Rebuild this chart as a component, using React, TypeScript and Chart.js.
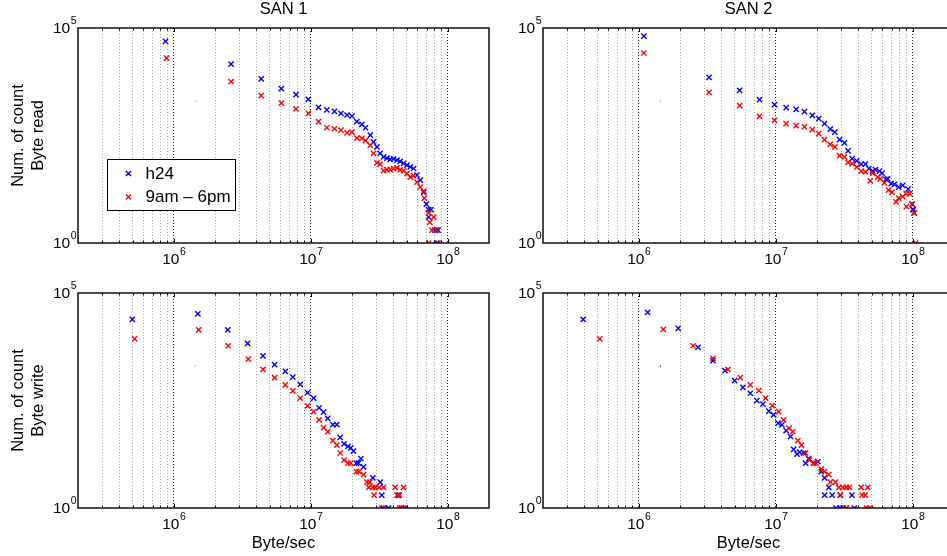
import React, { useEffect, useRef } from 'react';
import { Chart, registerables } from 'chart.js';

Chart.register(...registerables);

const FONT = '"Liberation Sans", Arial, Helvetica, sans-serif';

// ---------- axis / tick data ----------
const X_MIN = 2e5;
const X_MAX = 2e8;
const Y_MIN = 1;
const Y_MAX = 1e5;
const X_GRID_TICKS = [
  2e5, 3e5, 4e5, 5e5, 6e5, 7e5, 8e5, 9e5,
  1e6, 2e6, 3e6, 4e6, 5e6, 6e6, 7e6, 8e6, 9e6,
  1e7, 2e7, 3e7, 4e7, 5e7, 6e7, 7e7, 8e7, 9e7,
  1e8, 2e8,
];
const X_LABEL_VALUES = [1e6, 1e7, 1e8];
const X_LABEL_EXPONENTS = ['6', '7', '8'];
const Y_LABEL_VALUES = [1, 1e5];
const Y_LABEL_EXPONENTS = ['0', '5'];

const TITLES = ['SAN 1', 'SAN 2'];
const ROW_LABELS = [
  ['Num. of count', 'Byte read'],
  ['Num. of count', 'Byte write'],
];
const X_AXIS_TITLE = 'Byte/sec';
const SERIES_NAMES = ['h24', '9am \u2013 6pm'];

// ---------- series data: [Byte/sec, count] ----------
const san1ReadH24: [number, number][] = [
  [8.7e5, 4.9e4], [2.62e6, 1.44e4], [4.35e6, 6550], [6.1e6, 3890], [7.8e6, 2820],
  [9.6e6, 2200], [1.14e7, 1430], [1.31e7, 1240], [1.49e7, 1155], [1.66e7, 1040],
  [1.84e7, 948], [2.0e7, 898], [2.17e7, 661], [2.36e7, 575], [2.51e7, 479],
  [2.72e7, 324], [2.87e7, 226], [3.04e7, 173], [3.21e7, 121], [3.4e7, 101],
  [3.6e7, 94], [3.8e7, 88], [4.02e7, 91], [4.26e7, 85], [4.5e7, 79],
  [4.76e7, 71], [5.04e7, 65], [5.33e7, 59], [5.63e7, 54], [5.96e7, 38],
  [6.3e7, 29], [6.67e7, 15], [6.98e7, 8], [7.25e7, 6], [7.55e7, 6],
  [7.25e7, 4], [8.07e7, 2], [8.5e7, 2], [8.3e7, 1],
];
const san1ReadDay: [number, number][] = [
  [8.86e5, 2.0e4], [2.62e6, 5660], [4.35e6, 2670], [6.1e6, 1800], [7.8e6, 1310],
  [9.6e6, 1040], [1.14e7, 661], [1.31e7, 479], [1.49e7, 454], [1.66e7, 424],
  [1.84e7, 366], [2.0e7, 380], [2.17e7, 276], [2.36e7, 271], [2.51e7, 239],
  [2.72e7, 186], [2.87e7, 121], [3.04e7, 73], [3.21e7, 68], [3.4e7, 48],
  [3.6e7, 51], [3.8e7, 51], [4.02e7, 54], [4.26e7, 56], [4.5e7, 50],
  [4.76e7, 48], [5.04e7, 41], [5.33e7, 34], [5.63e7, 37], [5.96e7, 26],
  [6.3e7, 20], [6.67e7, 16], [6.75e7, 11], [7.25e7, 5], [7.4e7, 3],
  [7.9e7, 4], [7.67e7, 2], [8.3e7, 2], [7.25e7, 1], [8.5e7, 1],
];
const san2ReadH24: [number, number][] = [
  [1.09e6, 6.5e4], [3.26e6, 7130], [5.45e6, 3560], [7.6e6, 2160], [9.8e6, 1655],
  [1.19e7, 1409], [1.41e7, 1285], [1.62e7, 1137], [1.85e7, 933], [2.06e7, 782],
  [2.27e7, 598], [2.5e7, 447], [2.7e7, 380], [2.92e7, 254], [3.17e7, 212],
  [3.37e7, 138], [3.61e7, 92], [3.9e7, 81], [4.2e7, 68], [4.52e7, 68],
  [4.78e7, 54], [5.1e7, 47], [5.34e7, 51], [5.71e7, 47], [5.97e7, 42],
  [6.38e7, 30], [6.56e7, 31], [6.95e7, 24], [7.35e7, 23], [7.9e7, 20],
  [8.45e7, 22], [9.25e7, 18], [9.9e7, 8], [1.01e8, 6], [1.02e8, 5], [1.0e8, 6],
];
const san2ReadDay: [number, number][] = [
  [1.09e6, 2.62e4], [3.26e6, 3200], [5.45e6, 1567], [7.6e6, 885], [9.8e6, 713],
  [1.19e7, 598], [1.41e7, 537], [1.62e7, 499], [1.85e7, 434], [2.06e7, 350],
  [2.27e7, 254], [2.5e7, 197], [2.7e7, 171], [2.92e7, 108], [3.17e7, 100],
  [3.37e7, 75], [3.61e7, 70], [3.9e7, 58], [4.2e7, 47], [4.52e7, 45],
  [4.89e7, 28], [5.1e7, 42], [5.55e7, 34], [5.8e7, 31], [6.2e7, 25],
  [6.67e7, 17], [7.06e7, 15], [7.55e7, 9], [7.9e7, 11], [8.45e7, 12],
  [8.95e7, 14], [9.5e7, 14], [9.0e7, 7], [9.9e7, 8], [1.03e8, 5], [1.05e8, 1],
];
const san1WriteH24: [number, number][] = [
  [4.98e5, 2.43e4], [1.5e6, 3.27e4], [2.48e6, 1.39e4], [3.46e6, 6730], [4.48e6, 3470],
  [5.45e6, 2150], [6.52e6, 1510], [7.4e6, 1112], [8.38e6, 753], [9.48e6, 481],
  [1.05e7, 357], [1.15e7, 212], [1.24e7, 169], [1.33e7, 122], [1.45e7, 87],
  [1.55e7, 87], [1.64e7, 44], [1.75e7, 31], [1.87e7, 27], [1.96e7, 25],
  [2.05e7, 21], [2.15e7, 11], [2.23e7, 11], [2.32e7, 14], [2.43e7, 9],
  [2.84e7, 5], [3.21e7, 4], [3.3e7, 2], [3.4e7, 1], [3.7e7, 1],
  [4.62e7, 1], [4.9e7, 1], [4.37e7, 2],
];
const san1WriteDay: [number, number][] = [
  [5.18e5, 8610], [1.52e6, 1.39e4], [2.5e6, 5930], [3.5e6, 2910], [4.48e6, 1680],
  [5.45e6, 1072], [6.52e6, 726], [7.4e6, 527], [8.38e6, 357], [9.48e6, 236],
  [1.05e7, 174], [1.15e7, 112], [1.24e7, 74], [1.33e7, 60], [1.45e7, 37],
  [1.55e7, 29], [1.64e7, 19], [1.75e7, 13], [1.87e7, 11], [1.96e7, 11],
  [2.15e7, 7], [2.25e7, 7], [2.43e7, 6], [2.57e7, 4], [2.7e7, 4],
  [2.65e7, 3], [2.84e7, 3], [2.96e7, 3], [3.15e7, 3], [3.4e7, 3],
  [2.9e7, 2], [4.13e7, 3], [4.75e7, 3], [4.26e7, 2], [4.45e7, 2],
  [3.3e7, 1], [4.45e7, 1], [4.75e7, 1],
];
const san2WriteH24: [number, number][] = [
  [3.93e5, 2.43e4], [1.16e6, 3.53e4], [1.94e6, 1.5e4], [2.71e6, 5440], [3.48e6, 2660],
  [4.26e6, 1560], [5.01e6, 914], [5.76e6, 641], [6.52e6, 466], [7.28e6, 314],
  [8.05e6, 259], [8.91e6, 178], [9.64e6, 146], [1.04e7, 94], [1.11e7, 86],
  [1.19e7, 63], [1.28e7, 46], [1.35e7, 23], [1.43e7, 18], [1.49e7, 20],
  [1.6e7, 19], [1.65e7, 11], [1.74e7, 14], [1.89e7, 11], [2.03e7, 12],
  [2.15e7, 7], [2.27e7, 5], [2.44e7, 3], [2.27e7, 2], [2.58e7, 2],
  [2.97e7, 2], [3.6e7, 2], [2.76e7, 1], [2.95e7, 1], [3.1e7, 1],
  [3.27e7, 1], [3.75e7, 1],
];
const san2WriteDay: [number, number][] = [
  [5.2e5, 8610], [1.51e6, 1.42e4], [2.49e6, 5930], [3.48e6, 3020], [4.48e6, 1680],
  [5.51e6, 1072], [6.52e6, 726], [7.53e6, 536], [8.43e6, 357], [9.43e6, 240],
  [1.05e7, 174], [1.14e7, 112], [1.25e7, 72], [1.33e7, 60], [1.45e7, 37],
  [1.54e7, 29], [1.65e7, 19], [1.76e7, 13], [1.89e7, 11], [1.97e7, 11],
  [2.15e7, 8], [2.27e7, 7], [2.44e7, 6], [2.5e7, 4], [2.73e7, 4],
  [2.89e7, 3], [3.09e7, 3], [3.27e7, 3], [3.45e7, 3], [4.2e7, 3],
  [4.69e7, 3], [2.95e7, 2], [4.27e7, 2], [4.5e7, 2], [3.27e7, 1],
  [4.6e7, 1], [4.8e7, 1],
];
// stray single pixel present in every panel
const strayDot: [number, number][] = [[1.44e6, 2000]];

const BLUE = 'rgb(0,0,255)';
const RED = 'rgb(255,0,0)';
const MARK_R = 3.7;
const MARK_W = 1.4;

type PanelCfg = {
  left: number; top: number; width: number; height: number;
  pad: { left: number; right: number; top: number; bottom: number };
  title?: string; yTitle?: string[]; xTitle?: string; legend?: boolean;
  blue: [number, number][]; red: [number, number][]; dotColor: string;
};

const PANELS: PanelCfg[] = [
  { left: 0, top: 0, width: 500, height: 275, pad: { left: 78, right: 11, top: 28, bottom: 32 },
    title: TITLES[0], yTitle: ROW_LABELS[0], legend: true, blue: san1ReadH24, red: san1ReadDay, dotColor: '#999' },
  { left: 500, top: 0, width: 470, height: 275, pad: { left: 43, right: 16, top: 28, bottom: 32 },
    title: TITLES[1], blue: san2ReadH24, red: san2ReadDay, dotColor: '#999' },
  { left: 0, top: 275, width: 500, height: 281, pad: { left: 78, right: 11, top: 18, bottom: 48 },
    yTitle: ROW_LABELS[1], xTitle: X_AXIS_TITLE, blue: san1WriteH24, red: san1WriteDay, dotColor: '#999' },
  { left: 500, top: 275, width: 470, height: 281, pad: { left: 43, right: 16, top: 18, bottom: 48 },
    xTitle: X_AXIS_TITLE, blue: san2WriteH24, red: san2WriteDay, dotColor: '#000' },
];

function drawPower(ctx: CanvasRenderingContext2D, x: number, y: number, exp: string, align: 'center' | 'right') {
  const base = `15.5px ${FONT}`;
  const sup = `10.5px ${FONT}`;
  ctx.font = base;
  const w1 = ctx.measureText('10').width;
  ctx.font = sup;
  const w2 = ctx.measureText(exp).width;
  const total = w1 + w2;
  const left = align === 'center' ? x - total / 2 : x - total;
  ctx.textAlign = 'left';
  ctx.textBaseline = 'middle';
  ctx.fillStyle = '#000';
  ctx.font = base;
  ctx.fillText('10', left, y);
  ctx.font = sup;
  ctx.fillText(exp, left + w1 + 0.5, y - 7.5);
}

function drawCross(ctx: CanvasRenderingContext2D, x: number, y: number, color: string) {
  const d = MARK_R * Math.SQRT1_2;
  ctx.strokeStyle = color;
  ctx.lineWidth = MARK_W;
  ctx.beginPath();
  ctx.moveTo(x - d, y - d); ctx.lineTo(x + d, y + d);
  ctx.moveTo(x - d, y + d); ctx.lineTo(x + d, y - d);
  ctx.stroke();
}

function makeDecor(cfg: PanelCfg) {
  return {
    id: 'decor',
    afterDraw(chart: any) {
      const { ctx, chartArea: ca, scales } = chart;
      const xs = scales.x;
      const ys = scales.y;
      ctx.save();
      // inner tick marks
      ctx.strokeStyle = '#000';
      ctx.lineWidth = 1;
      for (const v of X_GRID_TICKS) {
        if (v <= X_MIN || v >= X_MAX) continue;
        const px = Math.round(xs.getPixelForValue(v)) + 0.5;
        const len = X_LABEL_VALUES.includes(v) ? 4 : 2.5;
        ctx.beginPath();
        ctx.moveTo(px, ca.bottom); ctx.lineTo(px, ca.bottom - len);
        ctx.moveTo(px, ca.top); ctx.lineTo(px, ca.top + len);
        ctx.stroke();
      }
      // axes box
      ctx.lineWidth = 1.5;
      ctx.strokeStyle = '#111';
      ctx.strokeRect(ca.left, ca.top, ca.right - ca.left, ca.bottom - ca.top);
      // x tick labels
      X_LABEL_VALUES.forEach((v, i) => {
        drawPower(ctx, xs.getPixelForValue(v), ca.bottom + 17, X_LABEL_EXPONENTS[i], 'center');
      });
      // y tick labels
      Y_LABEL_VALUES.forEach((v, i) => {
        drawPower(ctx, ca.left - 2, ys.getPixelForValue(v) + 1, Y_LABEL_EXPONENTS[i], 'right');
      });
      ctx.fillStyle = '#000';
      ctx.font = `16.5px ${FONT}`;
      ctx.textAlign = 'center';
      ctx.textBaseline = 'middle';
      const cx = (ca.left + ca.right) / 2;
      const cy = (ca.top + ca.bottom) / 2;
      if (cfg.title) ctx.fillText(cfg.title, cx, ca.top - 18.5);
      if (cfg.xTitle) ctx.fillText(cfg.xTitle, cx, ca.bottom + 35);
      if (cfg.yTitle) {
        ctx.save();
        ctx.translate(ca.left - 59.5, cy);
        ctx.rotate(-Math.PI / 2);
        ctx.fillText(cfg.yTitle[0], 0, 0);
        ctx.fillText(cfg.yTitle[1], 0, 20);
        ctx.restore();
      }
      if (cfg.legend) {
        const bx = ca.left + 29.5, by = ca.top + 131.5, bw = 128, bh = 51;
        ctx.fillStyle = '#fff';
        ctx.fillRect(bx, by, bw, bh);
        ctx.strokeStyle = '#000';
        ctx.lineWidth = 1;
        ctx.strokeRect(bx, by, bw, bh);
        drawCross(ctx, bx + 21, by + 14, BLUE);
        drawCross(ctx, bx + 21, by + 37.5, RED);
        ctx.fillStyle = '#000';
        ctx.font = `17px ${FONT}`;
        ctx.textAlign = 'left';
        ctx.textBaseline = 'middle';
        ctx.fillText(SERIES_NAMES[0], bx + 38, by + 14.5);
        ctx.fillText(SERIES_NAMES[1], bx + 38, by + 38);
      }
      ctx.restore();
    },
  };
}

function Panel({ cfg }: { cfg: PanelCfg }) {
  const ref = useRef<HTMLCanvasElement>(null);
  useEffect(() => {
    const toPts = (arr: [number, number][]) => arr.map(([x, y]) => ({ x, y }));
    const chart = new Chart(ref.current as HTMLCanvasElement, {
      type: 'scatter',
      data: {
        datasets: [
          {
            label: 'stray', data: toPts(strayDot), pointStyle: 'rect', pointRadius: 0.8,
            backgroundColor: cfg.dotColor, borderColor: cfg.dotColor, pointBorderWidth: 0, order: 2,
          },
          {
            label: SERIES_NAMES[0], data: toPts(cfg.blue), pointStyle: 'crossRot', pointRadius: MARK_R,
            borderColor: BLUE, backgroundColor: BLUE, pointBorderWidth: MARK_W, order: 1,
          },
          {
            label: SERIES_NAMES[1], data: toPts(cfg.red), pointStyle: 'crossRot', pointRadius: MARK_R,
            borderColor: RED, backgroundColor: RED, pointBorderWidth: MARK_W, order: 0,
          },
        ] as any,
      },
      options: {
        responsive: false,
        animation: false,
        devicePixelRatio: 1,
        events: [],
        layout: { padding: cfg.pad },
        plugins: { legend: { display: false }, tooltip: { enabled: false }, title: { display: false } },
        scales: {
          x: {
            type: 'logarithmic', min: X_MIN, max: X_MAX,
            afterBuildTicks: (scale: any) => {
              scale.ticks = X_GRID_TICKS.map((v) => ({ value: v, major: X_LABEL_VALUES.includes(v) }));
            },
            afterFit: (scale: any) => { scale.height = 0; },
            ticks: { display: false },
            border: { display: false, dash: [1, 2] },
            grid: {
              display: true, drawTicks: false, lineWidth: 1,
              color: (c: any) => (c.tick && X_LABEL_VALUES.includes(c.tick.value) ? '#222' : '#aaa'),
            },
          },
          y: {
            type: 'logarithmic', min: Y_MIN, max: Y_MAX,
            afterFit: (scale: any) => { scale.width = 0; },
            ticks: { display: false },
            border: { display: false },
            grid: { display: false, drawTicks: false },
          },
        },
      } as any,
      plugins: [makeDecor(cfg)],
    });
    return () => chart.destroy();
  }, [cfg]);
  return (
    <canvas
      ref={ref}
      width={cfg.width}
      height={cfg.height}
      style={{ position: 'absolute', left: cfg.left, top: cfg.top, width: cfg.width, height: cfg.height, display: 'block' }}
    />
  );
}

export default function App() {
  return (
    <div style={{ position: 'absolute', left: 0, top: 0, width: 947, height: 556, overflow: 'hidden', background: '#fff' }}>
      {PANELS.map((p, i) => (
        <Panel key={i} cfg={p} />
      ))}
    </div>
  );
}
